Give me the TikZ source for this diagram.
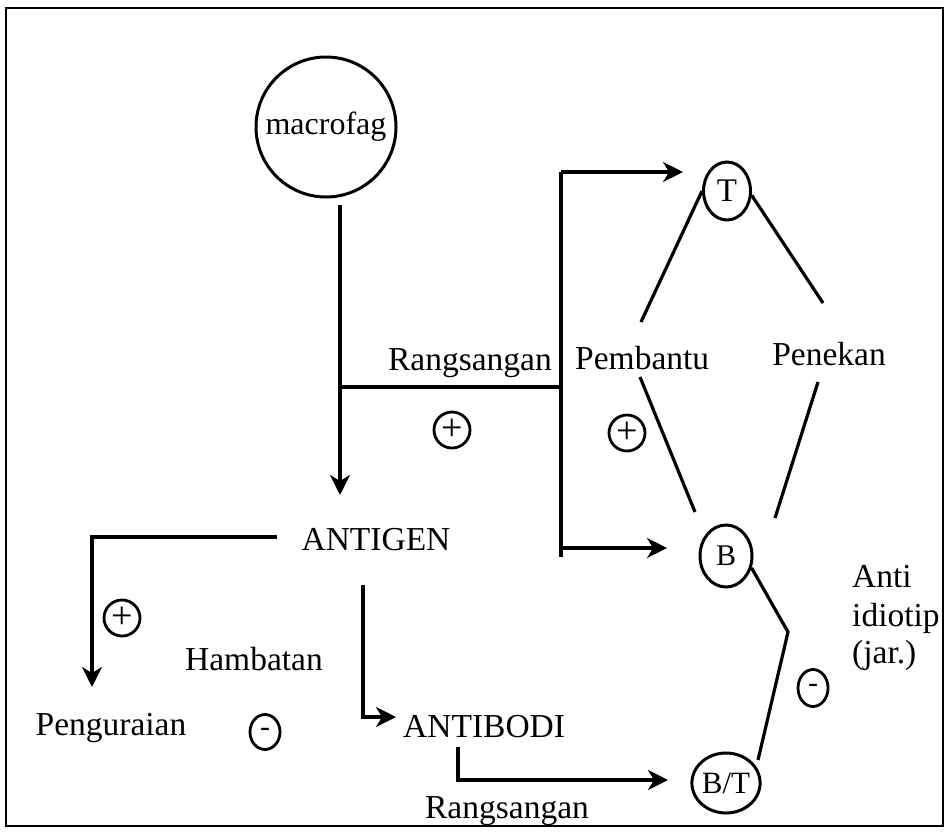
\documentclass[tikz,border=0pt]{standalone}
\usepackage{fontspec}
\setmainfont{Liberation Serif}
\usetikzlibrary{arrows.meta,shapes.geometric}
\begin{document}
\begin{tikzpicture}[x=1pt,y=-1pt,
  ln/.style={line width=3.2pt},
  arr/.style={ln,-{Stealth[length=20pt,width=20pt,inset=6pt]}},
  lbl/.style={font=\fontsize{33.5}{38}\selectfont, inner sep=0pt},
  cell/.style={draw, ellipse, line width=3pt, inner sep=0pt, font=\fontsize{30}{32}\selectfont},
  sign/.style={draw, circle, line width=2.8pt, inner sep=0pt, minimum size=36pt, font=\fontsize{38}{40}\selectfont},
  minus/.style={draw, ellipse, line width=2.8pt, inner sep=0pt, minimum width=30pt, minimum height=37pt, font=\fontsize{30}{32}\selectfont},
]
\useasboundingbox (0,0) rectangle (947,831);

% macrofag
\node[circle, draw, line width=3pt, minimum size=140pt, inner sep=0pt, font=\fontsize{32}{34}\selectfont] (mac) at (326,127) {macrofag};
\coordinate (m0) at (340,205);
\coordinate (ag) at (340,495);
\draw[arr] (m0) -- (ag);

% Rangsangan branch
\coordinate (r0) at (340,387);
\coordinate (r1) at (561,387);
\coordinate (vt) at (561,172);
\coordinate (vb) at (561,557);
\coordinate (tA) at (683,172);
\coordinate (bS) at (561,548);
\coordinate (bA) at (667,548);
\draw[ln] (r0) -- (r1);
\draw[ln] (vt) -- (vb);
\draw[arr] (vt) -- (tA);
\draw[arr] (bS) -- (bA);
\node[lbl, anchor=base east] (rang1) at (552,370) {Rangsangan};
\node[sign] (p1) at (452,430) {\raisebox{1pt}{+}};
\node[sign] (p2) at (627,433) {\raisebox{1pt}{+}};

% T cell and its lines
\node[cell, minimum width=47pt, minimum height=58pt, font=\fontsize{33}{35}\selectfont] (T) at (727,191) {T};
\coordinate (tl) at (641,322);
\coordinate (tr) at (823,303);
\draw[ln] (T.west) -- (tl);
\draw[ln] (T.-10) -- (tr);
\node[lbl, anchor=base west] (pemb) at (575,369) {Pembantu};
\node[lbl, anchor=base] (pene) at (829,365) {Penekan};
\coordinate (bl0) at (640,377);
\coordinate (bl1) at (695,512);
\coordinate (br0) at (818,382);
\coordinate (br1) at (775,518);
\draw[ln] (bl0) -- (bl1);
\draw[ln] (br0) -- (br1);

% B cell
\node[cell, minimum width=52pt, minimum height=62pt] (B) at (726,556) {B};
\node[cell, minimum width=58pt, minimum height=60pt, font=\fontsize{31}{33}\selectfont] (BT) at (726,783) {B/T};
\coordinate (k) at (788,632);
\coordinate (bte) at (758,760);
\draw[ln] (B.-25) -- (k) -- (bte);
\node[minus] (m2) at (813,688) {\raisebox{-7pt}{-}};
\node[lbl, anchor=base west] (anti1) at (852,587) {Anti};
\node[lbl, anchor=base west] (anti2) at (852,626) {idiotip};
\node[lbl, anchor=base west] (anti3) at (852,663) {(jar.)};

% ANTIGEN
\node[lbl, anchor=base] (antigen) at (376,550) {ANTIGEN};
\coordinate (g0) at (277,537);
\coordinate (g1) at (92,537);
\coordinate (g2) at (92,687);
\draw[arr] (g0) -- (g1) -- (g2);
\node[sign] (p3) at (122,618) {\raisebox{1pt}{+}};
\node[lbl, anchor=base] (hamb) at (254,670) {Hambatan};
\node[lbl, anchor=base] (peng) at (111,735) {Penguraian};
\node[minus, minimum height=35pt] (m1) at (265,732) {\raisebox{-7pt}{-}};

% ANTIBODI
\coordinate (a0) at (363,585);
\coordinate (a1) at (363,717);
\coordinate (a2) at (396,717);
\draw[arr] (a0) -- (a1) -- (a2);
\node[lbl, anchor=base west] (antibodi) at (403,737) {ANTIBODI};
\coordinate (c0) at (458,747);
\coordinate (c1) at (458,780);
\coordinate (c2) at (668,780);
\draw[arr] (c0) -- (c1) -- (c2);
\node[lbl, anchor=base] (rang2) at (507,818) {Rangsangan};

% frame
\draw[line width=2.8pt] (6,8) rectangle (943,826);
\end{tikzpicture}
\end{document}
